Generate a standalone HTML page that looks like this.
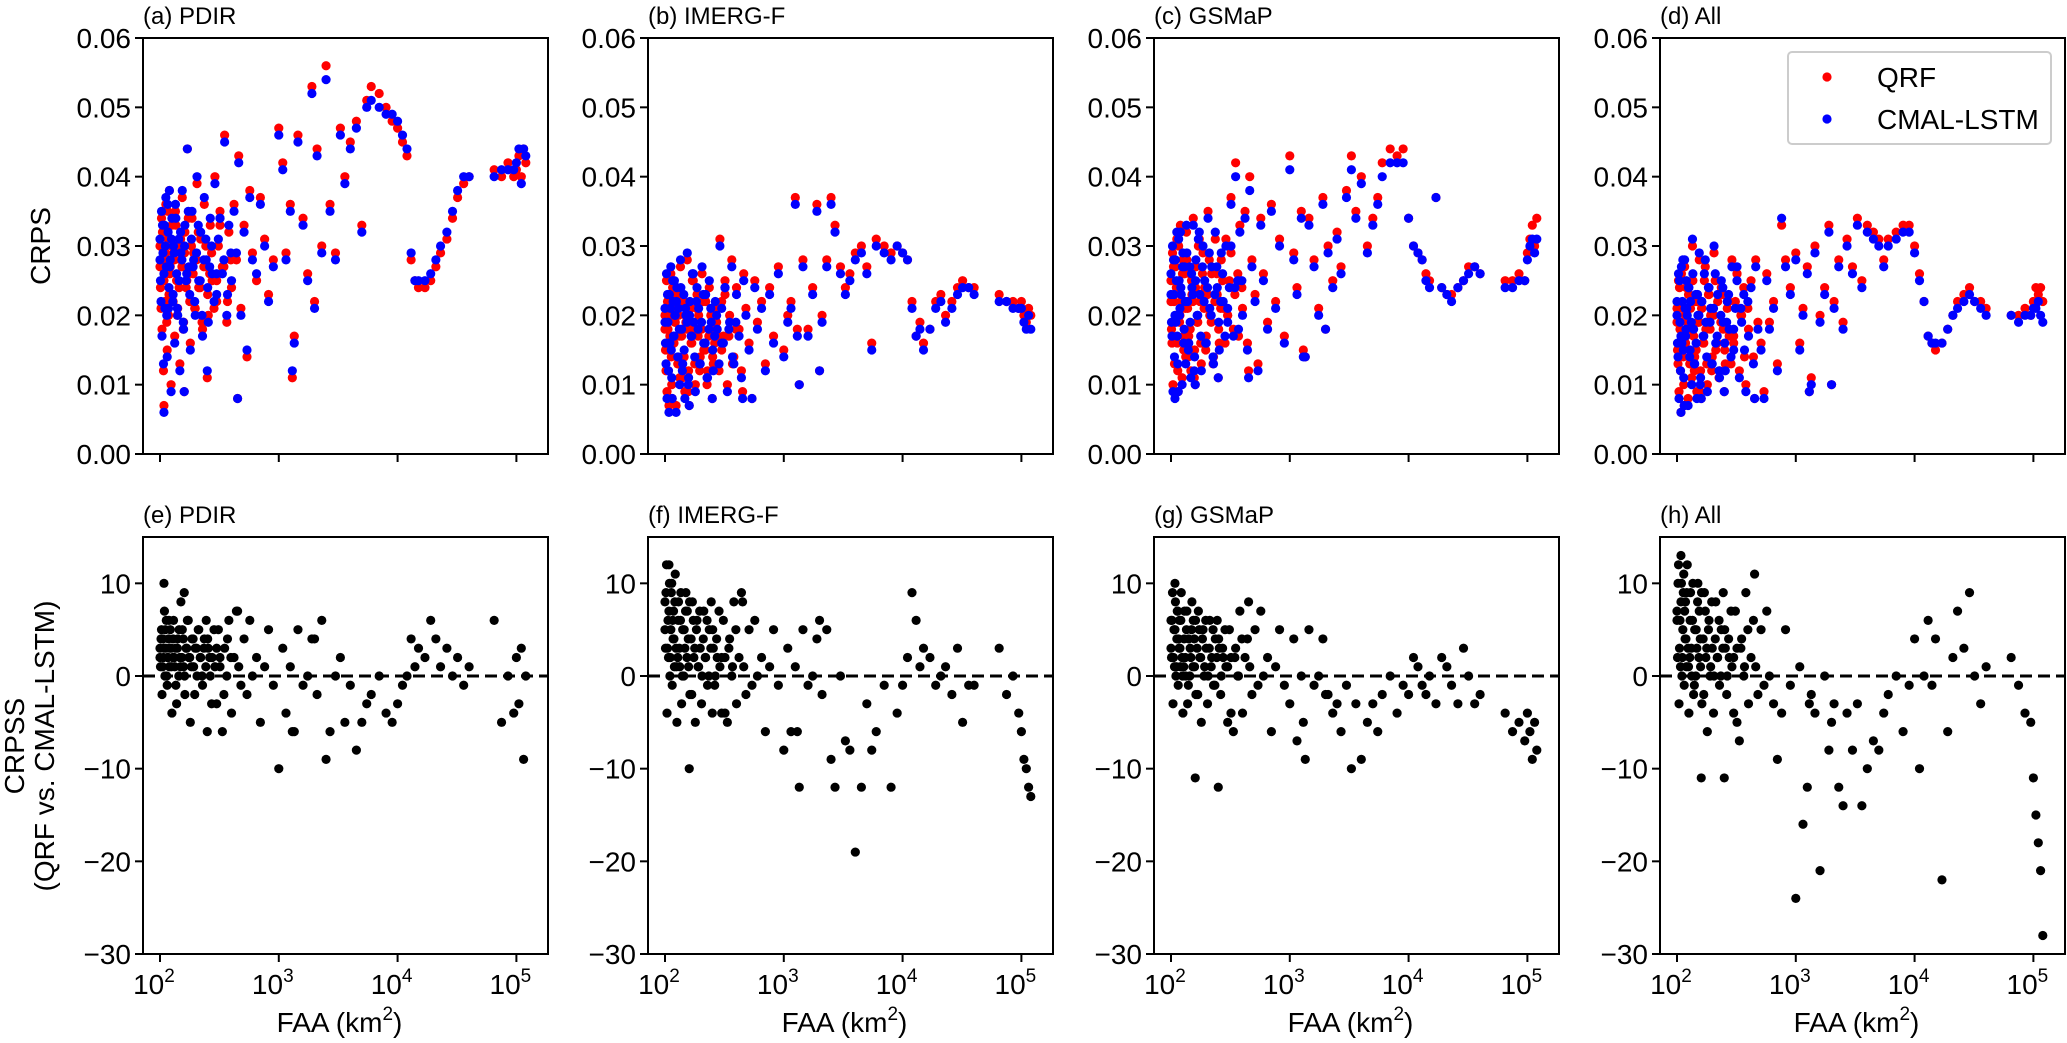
<!DOCTYPE html>
<html><head><meta charset="utf-8"><style>
html,body{margin:0;padding:0;background:#fff;}
svg{display:block;font-family:"Liberation Sans","DejaVu Sans",sans-serif;}
</style></head><body>
<svg id="fig" width="2067" height="1043" viewBox="0 0 2067 1043" xmlns="http://www.w3.org/2000/svg"></svg>
<script>
// ---------- data ----------
const topTickLabels = ['0.00','0.01','0.02','0.03','0.04','0.05','0.06'];
const topTickValues = [0,10,20,30,40,50,60]; // CRPS x 1000
const botTickValues = [10,0,-10,-20,-30];
const botTickLabels = ['10','0','\u221210','\u221220','\u221230'];
const xTickExp = [2,3,4,5];
const panelTitles = ['(a) PDIR','(b) IMERG-F','(c) GSMaP','(d) All','(e) PDIR','(f) IMERG-F','(g) GSMaP','(h) All'];
const seriesNames = ['QRF','CMAL-LSTM'];

const faaTop = [100,101,103,104,106,107,109,110,112,113,115,117,118,120,122,124,126,128,130,133,135,138,141,144,147,150,154,158,162,166,170,175,180,186,192,198,205,212,220,228,236,245,255,265,275,
290,300,310,320,335,350,365,380,400,420,440,460,480,510,540,570,600,650,700,760,820,900,1000,1080,1150,1250,1350,1450,1600,1750,1900,2100,2300,2500,2700,3000,3300,3600,4000,4500,5000,5500,6000,7000,8000,
9000,10000,11000,12000,13000,14000,15000,17000,19000,21000,23000,26000,29000,32000,36000,40000,65000,75000,85000,95000,100000,105000,110000,115000,120000,
108,160,250,450,1300,2000,
100,102,105,108,111,114,116,119,121,125,129,132,136,140,145,149,153,157,161,168,173,178,184,190,196,203,210,218,226,234,243,252,262,272,285,300,320,345,370,395];

const aQRF = [30,24,34,18,28,12,32,22,36,26,15,31,20,38,27,10,33,23,29,17,35,25,21,30,13,28,37,19,32,24,44,26,16,34,29,21,39,24,31,18,36,27,20,33,25,
40,22,30,35,27,46,19,32,24,36,28,43,21,33,14,38,29,25,37,31,23,28,47,42,29,36,17,46,34,26,53,44,30,56,36,29,47,40,45,48,33,51,53,52,50,
48,47,45,43,28,25,24,24,25,27,29,31,34,37,39,40,41,40,42,40,41,43,40,44,42,
7,9,11,8,11,22,
27,21,32,25,29,19,35,23,26,30,22,28,33,20,24,31,27,18,29,25,34,22,30,26,21,28,32,24,19,27,30,23,26,29,21,25,33,27,22,28];
const aCMAL = [31,25,35,17,29,13,33,21,37,27,14,32,21,38,28,9,34,22,30,16,36,26,20,31,12,29,38,18,33,25,44,27,15,35,28,20,40,25,32,17,37,28,19,34,26,
39,23,31,34,26,45,20,33,25,35,29,42,20,32,15,37,28,26,36,30,22,27,46,41,28,35,16,45,33,25,52,43,29,54,35,28,46,39,44,47,32,50,51,50,49,
49,48,46,44,29,25,25,25,26,28,30,32,35,38,40,40,40,41,41,41,42,44,39,44,43,
6,9,12,8,12,21,
28,22,33,26,30,20,36,24,27,31,23,29,34,21,25,32,28,19,30,26,35,23,31,27,22,29,33,25,20,28,31,24,27,30,22,26,34,28,23,29];

const bQRF = [20,15,25,9,18,12,22,17,26,14,8,21,16,24,19,7,23,13,20,11,27,17,14,22,9,19,28,12,21,16,25,18,10,23,20,14,26,15,22,12,24,18,13,21,17,
31,22,17,25,10,20,28,14,24,18,12,26,21,16,8,25,19,22,13,24,17,27,15,20,22,37,10,28,18,24,36,20,28,37,33,27,24,26,29,30,27,16,31,30,29,
30,29,28,22,17,19,16,18,22,23,20,22,24,25,24,24,23,22,22,21,22,20,19,21,20,
7,7,8,9,18,12,
18,12,22,15,20,10,24,16,19,21,13,17,23,11,14,20,18,9,19,16,25,13,21,17,12,18,22,15,10,17,20,14,16,19,12,15,23,17,13,18];
const bCMAL = [21,16,26,8,19,12,23,16,27,15,8,22,17,25,20,6,24,14,21,10,28,18,13,23,8,20,29,11,22,17,26,19,9,24,21,13,27,16,23,11,25,19,12,22,18,
30,21,16,24,9,19,27,13,23,17,11,25,20,15,8,24,18,21,12,23,16,26,14,19,21,36,10,27,17,23,35,19,27,36,32,26,23,25,28,29,26,15,30,29,28,
30,29,28,21,17,18,15,18,21,22,19,21,23,24,24,23,22,22,21,21,21,19,18,20,18,
6,7,8,8,17,12,
19,13,23,16,21,11,25,17,20,22,14,18,24,12,15,21,19,10,20,17,26,14,22,18,13,19,23,16,11,18,21,15,17,20,13,16,24,18,14,19];

const cQRF = [25,18,29,10,22,13,27,20,31,16,9,24,19,33,22,11,28,15,26,14,32,21,17,26,12,23,34,15,27,19,30,22,13,29,24,17,35,20,26,14,31,23,16,28,21,
31,20,25,37,18,42,26,33,21,35,16,40,28,23,13,34,26,19,36,22,31,17,43,29,24,35,14,34,28,21,37,30,25,32,27,38,43,35,40,30,34,37,42,44,43,
44,34,30,29,28,26,25,37,24,23,23,24,25,27,27,26,25,25,26,25,29,31,33,30,34,
9,10,11,12,15,18,
22,16,27,19,24,12,30,20,23,26,17,21,28,14,18,25,22,11,24,19,31,16,26,21,15,23,28,19,13,22,26,18,21,25,16,20,29,23,17,24];
const cCMAL = [26,19,30,9,23,14,28,19,32,17,9,25,20,32,23,10,29,16,27,13,33,22,16,27,11,24,33,14,28,20,31,23,12,30,25,16,34,21,27,13,32,24,15,29,22,
30,19,24,36,17,40,25,32,20,34,15,38,27,22,12,33,25,18,35,21,30,16,41,28,23,34,14,33,27,20,36,29,24,31,26,37,41,34,39,29,33,36,40,42,42,
42,34,30,29,28,25,24,37,24,23,22,24,25,26,27,26,24,24,25,25,28,30,31,29,31,
8,10,11,11,14,18,
23,17,28,20,25,13,31,21,24,27,18,22,29,15,19,26,23,12,25,20,32,17,27,22,16,24,29,20,14,23,27,19,22,26,17,21,30,24,18,25];

const dQRF = [21,15,25,9,18,12,26,17,27,14,7,20,16,24,19,8,23,13,21,11,30,17,14,22,9,19,28,12,21,16,25,18,10,23,20,14,29,15,22,12,24,18,13,21,17,
28,16,22,26,12,20,24,10,18,25,14,28,19,16,9,26,19,22,13,33,28,24,29,16,21,27,11,30,20,24,33,22,28,19,31,27,34,25,33,32,31,28,31,32,33,
33,30,26,22,17,16,15,16,18,20,22,23,24,22,22,21,20,20,21,20,22,24,23,24,22,
6,8,9,8,9,10,
19,13,24,16,21,10,27,17,20,23,14,18,25,12,15,22,19,9,21,16,27,13,23,18,12,20,25,16,11,19,23,15,18,22,13,17,26,20,14,21];
const dCMAL = [22,16,26,8,19,12,27,16,28,15,7,21,17,25,20,7,24,14,22,10,31,18,13,23,8,20,29,11,22,17,26,19,9,24,21,13,30,16,23,11,25,19,12,22,18,
27,15,21,25,11,19,23,9,17,24,13,27,18,15,8,25,18,21,12,34,27,23,28,15,20,26,10,29,19,23,32,21,27,18,30,26,33,24,32,31,30,27,30,31,32,
32,29,25,22,17,16,16,16,18,20,21,22,23,22,21,20,20,19,20,20,21,21,22,20,19,
6,8,9,8,9,10,
20,14,25,17,22,11,28,18,21,24,15,19,26,13,16,23,20,10,22,17,28,14,24,19,13,21,26,17,12,20,24,16,19,23,14,18,27,21,15,22];

const faaBot = faaTop;
const eCRPSS = [3,1,5,-2,4,2,7,0,3,6,-1,2,4,1,5,3,-4,2,6,1,3,-3,4,0,2,8,5,1,-2,3,6,2,-5,4,1,3,0,5,2,-1,4,6,3,0,2,
1,-3,5,2,-6,3,0,6,-4,2,7,1,-1,4,-2,6,0,2,-5,1,5,-1,-10,3,-4,1,-6,5,-1,0,4,-2,6,-9,-6,0,2,-5,-1,-8,-5,-3,-2,0,-4,
-5,-3,-1,0,4,1,3,2,6,4,1,3,0,2,-1,1,6,-5,0,-4,2,-3,3,-9,0,
10,9,-6,7,-6,4,
2,4,1,3,5,0,2,6,3,1,4,2,-1,3,5,1,2,4,0,3,6,2,1,4,-2,3,5,2,0,3,1,4,2,-3,5,3,1,-2,4,2];
const fCRPSS = [8,3,12,-4,6,2,10,0,5,9,-1,4,7,1,11,3,-5,2,8,1,6,-3,5,0,3,9,7,1,-2,4,8,2,-5,6,1,3,0,7,2,-1,5,8,3,0,2,
1,-4,6,2,-5,4,0,8,-3,2,9,1,-2,5,-1,6,0,2,-6,1,5,-1,-8,3,-6,1,-12,5,-1,0,4,-2,5,-9,-12,0,-7,-8,-19,-12,-3,-8,-6,-1,-12,
-4,-1,2,9,6,1,3,2,-1,0,1,-2,3,-5,-1,-1,3,-2,0,-4,-6,-9,-10,-12,-13,
12,-10,-4,8,-6,6,
5,9,3,7,2,10,6,4,8,1,6,3,9,0,5,7,2,4,8,-2,6,3,5,1,7,-3,4,2,6,0,3,5,-1,4,7,2,-4,3,1,5];
const gCRPSS = [6,2,9,-3,5,1,8,0,4,7,-1,3,6,1,9,2,-4,1,7,0,5,-3,4,0,2,8,6,1,-2,3,7,2,-5,5,1,3,0,6,2,-1,4,6,3,0,2,
1,-5,5,2,-6,3,0,7,-4,2,4,1,-2,5,-1,7,0,2,-6,1,5,-1,-3,4,-7,0,-9,5,-1,0,4,-2,-4,-3,-6,-1,-10,-3,-9,-5,-3,-6,-2,0,-4,
-1,-2,2,1,-1,-2,0,-3,2,1,-1,-3,3,0,-3,-2,-4,-6,-5,-7,-4,-6,-9,-5,-8,
10,-11,-12,8,-5,-2,
3,6,2,5,1,7,4,3,6,0,4,2,7,-1,3,5,1,4,6,-2,5,2,4,0,6,-3,3,1,5,-1,2,4,-2,3,5,1,-4,2,0,4];
const hCRPSS = [7,2,12,-3,6,1,10,0,5,9,-1,4,8,1,12,3,-4,2,9,0,6,-2,5,0,3,10,7,1,-3,4,9,2,-6,6,1,3,0,8,2,-1,5,9,3,0,2,
1,-4,7,3,-7,4,0,9,-3,2,6,1,-2,5,-1,7,0,-3,-9,-4,5,-1,-24,1,-16,-12,-2,-4,-21,0,-8,-3,-12,-14,-4,-8,-3,-14,-10,-7,-8,-4,-2,0,-6,
-1,4,-10,0,6,-1,4,-22,-6,2,7,3,9,0,-3,1,2,-1,-4,-5,-11,-15,-18,-21,-28,
13,-11,-11,11,-3,-5,
6,10,3,8,2,11,7,4,9,1,6,3,10,-1,5,8,2,4,9,-2,7,3,5,0,8,-4,4,2,6,0,3,5,-2,4,7,2,-5,3,1,5];

// ---------- drawing ----------
const NS='http://www.w3.org/2000/svg';
const svg=document.getElementById('fig');
function mk(tag,attrs,parent){const e=document.createElementNS(NS,tag);for(const k in attrs)e.setAttribute(k,attrs[k]);(parent||svg).appendChild(e);return e;}

const lefts=[143,648,1154,1660];
const W=405;
const R=4.6;
const LOGMIN=1.857, LOGMAX=1.857+405/118.8;
function xScale(left,v){return left+(Math.log10(v)-LOGMIN)/(LOGMAX-LOGMIN)*W;}
const topRow={top:38,bottom:454,min:0,max:60};
const botRow={top:537,bottom:954,min:-30,max:15};
function yScale(row,v){return row.bottom-(v-row.min)/(row.max-row.min)*(row.bottom-row.top);}

const topData=[[aQRF,aCMAL],[bQRF,bCMAL],[cQRF,cCMAL],[dQRF,dCMAL]];
const botData=[eCRPSS,fCRPSS,gCRPSS,hCRPSS];

function drawAxes(i,row,isTop){
  const left=lefts[i];
  const g=mk('g',{});
  
  
  const t=mk('text',{x:left,y:row.top-14,'font-size':24,fill:'#000'},g);
  t.textContent=panelTitles[isTop?i:i+4];
  
  
  const tv=isTop?topTickValues:botTickValues, tl=isTop?topTickLabels:botTickLabels;
  for(let k=0;k<tv.length;k++){
    const y=yScale(row,tv[k]);
    mk('line',{x1:left-8,x2:left,y1:y,y2:y,stroke:'#000','stroke-width':2},g);
    const tx=mk('text',{x:left-12,y:y+10,'font-size':28,'text-anchor':'end',fill:'#000'},g);
    tx.textContent=tl[k];
    
    
  }
  for(const ex of xTickExp){
    const x=xScale(left,Math.pow(10,ex));
    mk('line',{x1:x,x2:x,y1:row.bottom,y2:row.bottom+8,stroke:'#000','stroke-width':2},g);
    if(!isTop){
      const tx=mk('text',{x:x-6,y:row.bottom+40,'font-size':28,'text-anchor':'middle',fill:'#000'},g);
      
      
      tx.appendChild(document.createTextNode('10'));
      const s=mk('tspan',{dy:-12,'font-size':19},tx);s.textContent=String(ex);
    }
  }
  if(!isTop){
    const xl=mk('text',{x:left+W/2-6,y:1032,'font-size':28,'text-anchor':'middle',fill:'#000'},g);
    
    
    xl.appendChild(document.createTextNode('FAA (km'));
    const s=mk('tspan',{dy:-12,'font-size':19},xl);s.textContent='2';
    const s2=mk('tspan',{dy:12},xl);s2.textContent=')';
  }
  return g;
}
function frame(i,row,g){
  mk('rect',{x:lefts[i],y:row.top,width:W,height:row.bottom-row.top,fill:'none',stroke:'#000','stroke-width':2},g);
}

for(let i=0;i<4;i++){
  const g=drawAxes(i,topRow,true);
  const [q,c]=topData[i];
  const n=Math.min(faaTop.length,q.length,c.length);
  for(let k=0;k<n;k++){
    const p=mk('circle',{cx:xScale(lefts[i],faaTop[k]),cy:yScale(topRow,q[k]),r:R,fill:'#ff0000'},g);
    
    
  }
  for(let k=0;k<n;k++){
    const p=mk('circle',{cx:xScale(lefts[i],faaTop[k]),cy:yScale(topRow,c[k]),r:R,fill:'#0000ff'},g);
    
    
  }
  frame(i,topRow,g);
}
for(let i=0;i<4;i++){
  const g=drawAxes(i,botRow,false);
  const y0=yScale(botRow,0);
  const zl=mk('line',{x1:lefts[i],x2:lefts[i]+W,y1:y0,y2:y0,stroke:'#000','stroke-width':3,'stroke-dasharray':'12,6'},g);
  
  
  const v=botData[i];
  const n=Math.min(faaBot.length,v.length);
  for(let k=0;k<n;k++){
    const p=mk('circle',{cx:xScale(lefts[i],faaBot[k]),cy:yScale(botRow,v[k]),r:R,fill:'#000'},g);
    
    
  }
  frame(i,botRow,g);
}
const yt1=mk('text',{x:0,y:0,'font-size':28,'text-anchor':'middle',transform:'translate(50,246) rotate(-90)',fill:'#000'});
yt1.textContent='CRPS';


const yt2=mk('text',{x:0,y:0,'font-size':28,'text-anchor':'middle',transform:'translate(24,746) rotate(-90)',fill:'#000'});
yt2.textContent='CRPSS';


const yt3=mk('text',{x:0,y:0,'font-size':28,'text-anchor':'middle',transform:'translate(54,746) rotate(-90)',fill:'#000'});
yt3.textContent='(QRF vs. CMAL-LSTM)';


const lg=mk('g',{});


mk('rect',{x:1788,y:52,width:263,height:92,rx:4,fill:'#fff',stroke:'#cccccc','stroke-width':2},lg);
const legColors=['#ff0000','#0000ff'];
for(let k=0;k<2;k++){
  const y=77+k*42;
  mk('circle',{cx:1827,cy:y,r:R,fill:legColors[k]},lg);
  const t=mk('text',{x:1877,y:y+10,'font-size':28,fill:'#000'},lg);
  t.textContent=seriesNames[k];
  
  
}
</script>
</body></html>
